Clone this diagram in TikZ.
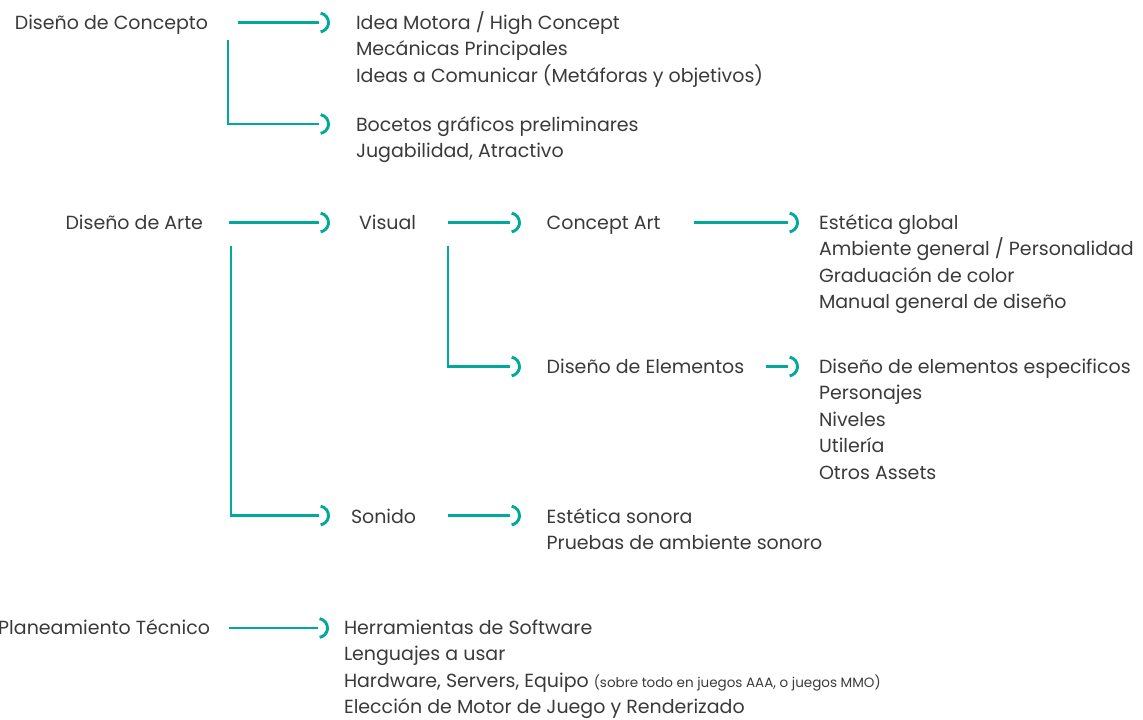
\documentclass[tikz,border=0pt]{standalone}
\usepackage{fontspec}
\setmainfont{Poppins}
\usetikzlibrary{decorations.markings}
\definecolor{teal1}{HTML}{00A99A}
\definecolor{ink}{HTML}{3A3A3A}
\tikzset{
  lbl/.style={inner sep=0pt, outer sep=0pt, text=ink, font=\fontsize{19}{26.5}\selectfont},
  conn/.style={draw=teal1, line width=2.9pt,
    postaction={decorate, decoration={markings, mark=at position 1 with {\draw[teal1, line width=2.9pt] (80:9.5pt) arc[start angle=80, end angle=-80, radius=9.5pt];}}}},
}
\newcommand{\smalltxt}[1]{{\fontsize{13.5}{15}\selectfont #1}}
\begin{document}
\begin{tikzpicture}[x=1pt,y=-1pt]
\useasboundingbox (0,0) rectangle (1143,720);
% column 1
\node[lbl, anchor=base east] (c1) at (208,29) {Diseño de Concepto};
\node[lbl, anchor=base east] (c2) at (203,229) {Diseño de Arte};
\node[lbl, anchor=base east] (c3) at (210,634) {Planeamiento Técnico};
% concept targets
\node[lbl, anchor=base west] (t1) at (356,29) {\vtop{\hbox{Idea Motora / High Concept}\hbox{Mecánicas Principales}\hbox{Ideas a Comunicar (Metáforas y objetivos)}}};
\node[lbl, anchor=base west] (t2) at (356,131) {\vtop{\hbox{Bocetos gráficos preliminares}\hbox{Jugabilidad, Atractivo}}};
% arte
\node[lbl, anchor=base west] (a1) at (359,229) {Visual};
\node[lbl, anchor=base west] (s1) at (351,523) {Sonido};
\node[lbl, anchor=base west] (v1) at (546.7,229) {Concept Art};
\node[lbl, anchor=base west] (v2) at (546.7,373) {Diseño de Elementos};
\node[lbl, anchor=base west] (e1) at (819,229) {\vtop{\hbox{Estética global}\hbox{Ambiente general / Personalidad}\hbox{Graduación de color}\hbox{Manual general de diseño}}};
\node[lbl, anchor=base west] (e2) at (819,373) {\vtop{\hbox{Diseño de elementos especificos}\hbox{Personajes}\hbox{Niveles}\hbox{Utilería}\hbox{Otros Assets}}};
\node[lbl, anchor=base west] (so1) at (546.7,523) {\vtop{\hbox{Estética sonora}\hbox{Pruebas de ambiente sonoro}}};
% planeamiento
\node[lbl, anchor=base west] (p1) at (344,634) {\vtop{\hbox{Herramientas de Software}\hbox{Lenguajes a usar}\hbox{Hardware, Servers, Equipo \smalltxt{(sobre todo en juegos AAA, o juegos MMO)}}\hbox{Elección de Motor de Juego y Renderizado}}};
% connectors
\draw[conn] ([xshift=30pt,yshift=6.5pt]c1.base east) -- ([xshift=-37pt,yshift=6.5pt]t1.base west);
\draw[conn] ([xshift=20pt,yshift=-11pt]c1.base east) |- ([xshift=-37pt,yshift=7pt]t2.base west);
\draw[conn] ([xshift=26pt,yshift=6.5pt]c2.base east) -- ([xshift=-40pt,yshift=6.5pt]a1.base west);
\draw[conn] ([xshift=28pt,yshift=-16.5pt]c2.base east) |- ([xshift=-32pt,yshift=7.5pt]s1.base west);
\draw[conn] ([xshift=89pt,yshift=6.5pt]a1.base west) -- ([xshift=-36.7pt,yshift=6.5pt]v1.base west);
\draw[conn] ([xshift=89pt,yshift=-16.5pt]a1.base west) |- ([xshift=-36.7pt,yshift=6.5pt]v2.base west);
\draw[conn] ([xshift=147pt,yshift=6.5pt]v1.base west) -- ([xshift=-31pt,yshift=6.5pt]e1.base west);
\draw[conn] ([xshift=219pt,yshift=6.5pt]v2.base west) -- ([xshift=-31pt,yshift=6.5pt]e2.base west);
\draw[conn] ([xshift=97pt,yshift=7.5pt]s1.base west) -- ([xshift=-36.7pt,yshift=7.5pt]so1.base west);
\draw[conn] ([xshift=19pt,yshift=6pt]c3.base east) -- ([xshift=-26pt,yshift=6pt]p1.base west);
\end{tikzpicture}
\end{document}
